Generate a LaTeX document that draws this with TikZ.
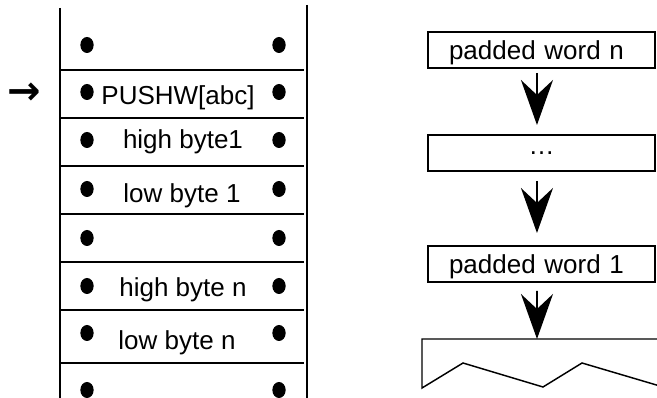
\documentclass[tikz,border=0pt]{standalone}
\usepackage{fontspec}
\setmainfont{Liberation Sans}
\newfontfamily\arrowfont{DejaVu Sans Bold}
\usetikzlibrary{arrows.meta,positioning}

\begin{document}
\begin{tikzpicture}[x=0.75pt,y=-0.75pt,line width=1.5pt,
  every node/.style={font=\fontsize{19.5}{22}\selectfont},
  cell/.style={anchor=base,inner sep=0pt},
  wordbox/.style={draw,line width=1.5pt,minimum height=27pt,text width=138.75pt,
    inner xsep=15.75pt,inner ysep=0pt,align=left,text depth=0pt},
  flow/.style={-{Stealth[length=33.75pt,width=24pt,inset=11.25pt]},line width=1.2pt}]
\useasboundingbox (0,0) rectangle (657,398);
\clip (0,0) rectangle (657,398);
% stack of bytes
\draw (60,8) -- (60,398);
\draw (307,5) -- (307,398);
\foreach \y in {70,118,166,214,262,310,363}
  \draw (60,\y) -- (304,\y);
\foreach \y in {45,92,140,189,238,286,333,390}{
  \fill (87,\y) ellipse [x radius=5pt,y radius=6pt];
  \fill (279,\y) ellipse [x radius=5pt,y radius=6pt];
}
\node[cell] (pushw) at (178,105) {PUSHW[abc]};
\node[cell] (hi1) at (183,149) {high byte1};
\node[cell] (lo1) at (182,203) {low byte 1};
\node[cell] (hin) at (183,297) {high byte n};
\node[cell] (lon) at (177,350) {low byte n};
\node[font=\arrowfont\fontsize{30}{32}\selectfont,inner sep=0pt] (ptr) at (24,94) {→};
% padded words
\node[wordbox] (wn) at (541.5,50) {padded word n};
\node[wordbox,align=center,below=48.75pt of wn] (wdots) {…};
\node[wordbox,below=54.75pt of wdots] (w1) {padded word 1};
\coordinate (torn) at (537,339);
\draw[flow,shorten <=3pt,shorten >=6.75pt] ([xshift=-3.4pt]wn.south) -- ([xshift=-3.4pt]wdots.north);
\draw[flow,shorten <=6.75pt,shorten >=9pt] ([xshift=-3.4pt]wdots.south) -- ([xshift=-3.4pt]w1.north);
\draw[flow,shorten <=6pt] ([xshift=-3.4pt]w1.south) -- (torn);
\draw[line width=1.1pt] (670,339) -- (torn) -- (422,339) -- (422,388) -- (463,363)
  -- (543,387) -- (582,363) -- (670,389);
\end{tikzpicture}
\end{document}
